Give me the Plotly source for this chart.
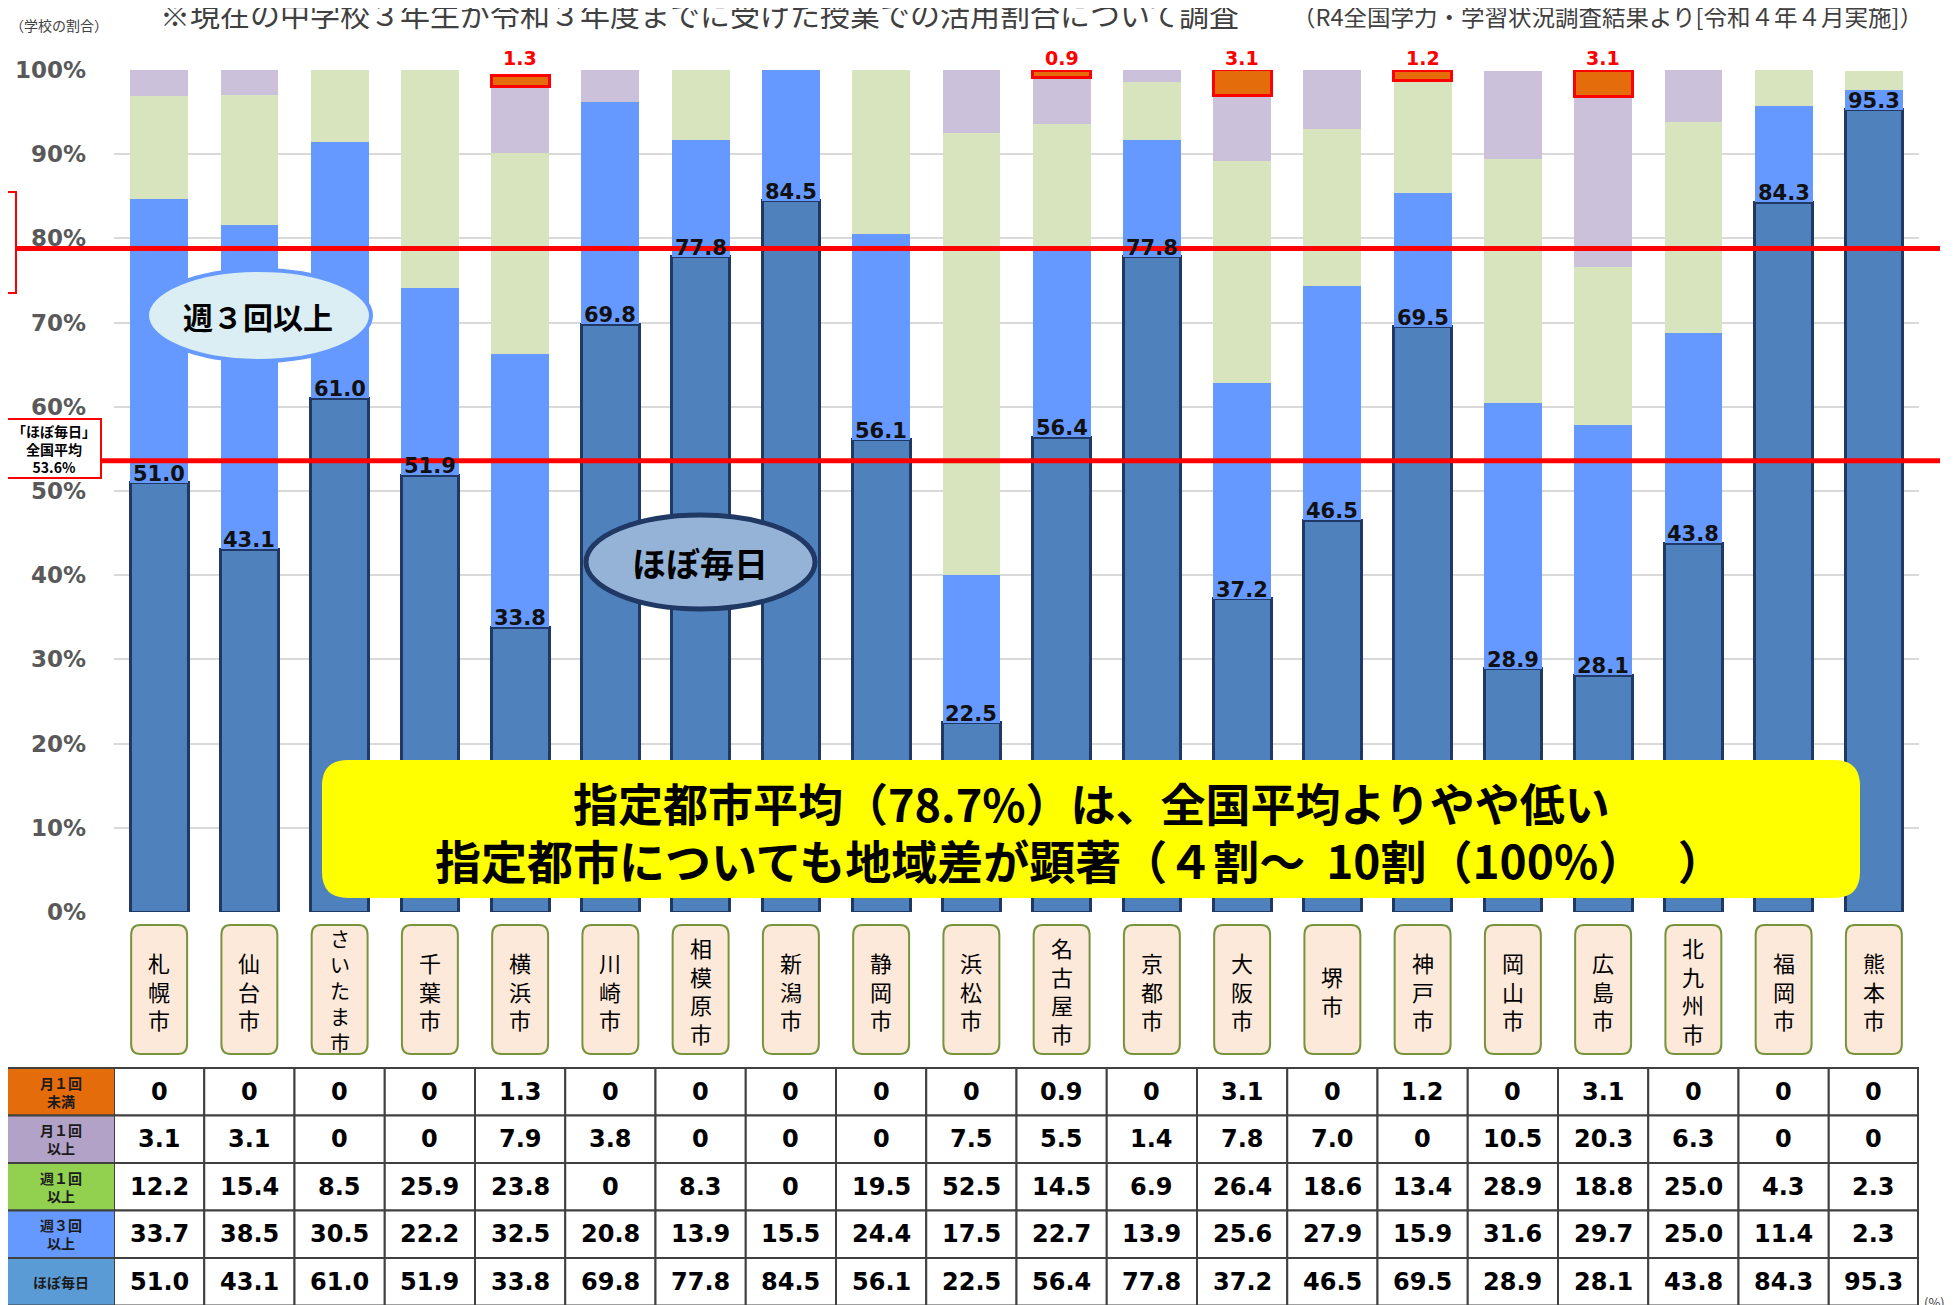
import plotly.graph_objects as go

W, H = 1955, 1305
OFF = 8  # the page body adds an 8px margin around the figure

# ---- data -------------------------------------------------------------
cities = ["札幌市", "仙台市", "さいたま市", "千葉市", "横浜市", "川崎市", "相模原市",
          "新潟市", "静岡市", "浜松市", "名古屋市", "京都市", "大阪市", "堺市",
          "神戸市", "岡山市", "広島市", "北九州市", "福岡市", "熊本市"]

# table values (%)
less_monthly = [0, 0, 0, 0, 1.3, 0, 0, 0, 0, 0, 0.9, 0, 3.1, 0, 1.2, 0, 3.1, 0, 0, 0]
monthly = [3.1, 3.1, 0, 0, 7.9, 3.8, 0, 0, 0, 7.5, 5.5, 1.4, 7.8, 7.0, 0, 10.5, 20.3, 6.3, 0, 0]
weekly1 = [12.2, 15.4, 8.5, 25.9, 23.8, 0, 8.3, 0, 19.5, 52.5, 14.5, 6.9, 26.4, 18.6, 13.4,
           28.9, 18.8, 25.0, 4.3, 2.3]
weekly3 = [33.7, 38.5, 30.5, 22.2, 32.5, 20.8, 13.9, 15.5, 24.4, 17.5, 22.7, 13.9, 25.6, 27.9,
           15.9, 31.6, 29.7, 25.0, 11.4, 2.3]
daily = [51.0, 43.1, 61.0, 51.9, 33.8, 69.8, 77.8, 84.5, 56.1, 22.5, 56.4, 77.8, 37.2, 46.5,
         69.5, 28.9, 28.1, 43.8, 84.3, 95.3]

# the chart's bar for 川崎市 differs from the table (blue runs up to ~96%)
weekly3_bar = [33.7, 38.5, 30.5, 22.2, 32.5, 26.4, 13.9, 15.5, 24.4, 17.5, 22.7, 13.9, 25.6, 27.9,
               15.9, 31.6, 29.7, 25.0, 11.4, 2.3]

national_daily_avg = 53.6
national_weekly3_avg = 78.8

row_names = ["月１回<br>未満", "月１回<br>以上", "週１回<br>以上", "週３回<br>以上", "ほぼ毎日"]
row_values = [less_monthly, monthly, weekly1, weekly3, daily]
row_colors = ["#E46C0A", "#B3A2C7", "#92D050", "#6699FF", "#5B9BD5"]

ytick_vals = [0, 10, 20, 30, 40, 50, 60, 70, 80, 90, 100]
ytick_text = [f"{v}%" for v in ytick_vals]

JP = "Noto Sans CJK JP"
NUM = "DejaVu Sans"


def fx(px):
    return (px - OFF) / W


def fy(py):
    return (H - (py - OFF)) / H


def rounded_path(x0, x1, y0, y1, rx, ry):
    return (f"M {x0 + rx},{y0} L {x1 - rx},{y0} Q {x1},{y0} {x1},{y0 + ry} "
            f"L {x1},{y1 - ry} Q {x1},{y1} {x1 - rx},{y1} L {x0 + rx},{y1} "
            f"Q {x0},{y1} {x0},{y1 - ry} L {x0},{y0 + ry} Q {x0},{y0} {x0 + rx},{y0} Z")


def note(**kw):
    d = dict(showarrow=False, xanchor="center", yanchor="middle")
    d.update(kw)
    return d


fig = go.Figure()
fig.add_bar(x=cities, y=daily, marker=dict(color="#4F81BD", line=dict(color="#1F3864", width=3)))
fig.add_bar(x=cities, y=weekly3_bar, marker=dict(color="#6699FF", line=dict(width=0)))
fig.add_bar(x=cities, y=weekly1, marker=dict(color="#D7E4BD", line=dict(width=0)))
fig.add_bar(x=cities, y=monthly, marker=dict(color="#CCC1DA", line=dict(width=0)))
fig.add_bar(x=cities, y=less_monthly,
            marker=dict(color="#E46C0A",
                        line=dict(color="#FF0000", width=[3 if v > 0 else 0 for v in less_monthly])))

shapes = []
ann = []

# value labels
for c, v in zip(cities, daily):
    ann.append(note(x=c, y=v, text=f"{v:.1f}", yanchor="bottom", yshift=-5,
                    font=dict(family=NUM, size=21, color="#111111", weight="bold")))
for c, v in zip(cities, less_monthly):
    if v > 0:
        ann.append(note(x=c, y=100, text=f"{v:.1f}", yanchor="bottom", yshift=-1,
                        font=dict(family=NUM, size=19, color="#FF0000", weight="bold")))

# reference lines
shapes.append(dict(type="line", xref="paper", yref="y", x0=fx(16), x1=fx(1940),
                   y0=national_weekly3_avg, y1=national_weekly3_avg,
                   line=dict(color="#FF0000", width=5)))
shapes.append(dict(type="line", xref="paper", yref="y", x0=fx(101), x1=fx(1940),
                   y0=national_daily_avg, y1=national_daily_avg,
                   line=dict(color="#FF0000", width=5)))

# left boxes
shapes.append(dict(type="rect", xref="paper", yref="paper", x0=fx(-10), x1=fx(16),
                   y0=fy(293), y1=fy(192), line=dict(color="#FF0000", width=2), fillcolor="white"))
ann.append(note(x=fx(7), y=fy(204), xref="paper", yref="paper", text="」",
                font=dict(family=JP, size=14, color="#000000", weight="bold")))
shapes.append(dict(type="rect", xref="paper", yref="paper", x0=fx(7), x1=fx(101),
                   y0=fy(478), y1=fy(419), line=dict(color="#FF0000", width=2), fillcolor="white"))
ann.append(note(x=fx(54), y=fy(449), xref="paper", yref="paper",
                text=f"「ほぼ毎日」<br>全国平均<br>{national_daily_avg}%",
                font=dict(family=JP, size=14, color="#000000", weight="bold")))

# ellipses
shapes.append(dict(type="circle", xref="paper", yref="paper", x0=fx(147), x1=fx(371),
                   y0=fy(361), y1=fy(270), fillcolor="#DAEEF3", line=dict(color="#6699FF", width=4)))
ann.append(note(x=fx(258), y=fy(316), xref="paper", yref="paper", text="週３回以上",
                font=dict(family=JP, size=30, color="#000000", weight="bold")))
shapes.append(dict(type="circle", xref="paper", yref="paper", x0=fx(586), x1=fx(815),
                   y0=fy(609), y1=fy(515), fillcolor="#95B3D7", line=dict(color="#1F3864", width=5)))
ann.append(note(x=fx(700), y=fy(562), xref="paper", yref="paper", text="ほぼ毎日",
                font=dict(family=JP, size=34, color="#000000", weight="bold")))

# yellow banner
shapes.append(dict(type="path", xref="paper", yref="paper",
                   path=rounded_path(fx(322), fx(1860), fy(898), fy(760), 26 / W, 26 / H),
                   fillcolor="#FFFF00", line=dict(width=0)))
ann.append(note(x=fx(1091), y=fy(802), xref="paper", yref="paper",
                text="指定都市平均（78.7%）は、全国平均よりやや低い",
                font=dict(family=JP, size=45, color="#000000", weight="bold")))
ann.append(note(x=fx(1079), y=fy(859), xref="paper", yref="paper",
                text="指定都市についても地域差が顕著（４割～\u00a0\u00a010割（100%）\u3000\u00a0）",
                font=dict(family=JP, size=46, color="#000000", weight="bold")))

# city label boxes
for i, c in enumerate(cities):
    shapes.append(dict(type="path", xref="x", yref="paper",
                       path=rounded_path(i - 0.31, i + 0.31, fy(1054), fy(925), 0.1, 10 / H),
                       fillcolor="#FDE9D9", line=dict(color="#77933C", width=2)))
    ann.append(note(x=c, y=fy(990), yref="paper", text="<br>".join(c),
                    font=dict(family=JP, size=22 if len(c) < 5 else 20, color="#000000")))

# table
top, row_h = 1068, 47.5
for r, (name, vals, col) in enumerate(zip(row_names, row_values, row_colors)):
    y_top = top + r * row_h
    y_bot = y_top + row_h
    shapes.append(dict(type="rect", xref="paper", yref="paper", x0=fx(7), x1=fx(115),
                       y0=fy(y_bot), y1=fy(y_top), fillcolor=col,
                       line=dict(color="#404040", width=2)))
    ann.append(note(x=fx(61), y=fy((y_top + y_bot) / 2), xref="paper", yref="paper", text=name,
                    font=dict(family=JP, size=14, color="#1A1A1A", weight="bold")))
    for i, (c, v) in enumerate(zip(cities, vals)):
        shapes.append(dict(type="rect", xref="x", yref="paper", x0=i - 0.5, x1=i + 0.5,
                           y0=fy(y_bot), y1=fy(y_top), fillcolor="white",
                           line=dict(color="#404040", width=2)))
        ann.append(note(x=c, y=fy((y_top + y_bot) / 2), yref="paper",
                        text="0" if v == 0 else f"{v:.1f}",
                        font=dict(family=NUM, size=24, color="#000000", weight="bold")))
shapes.append(dict(type="line", xref="paper", yref="paper", x0=fx(1918), x1=fx(1918),
                   y0=fy(top + 5 * row_h), y1=fy(top), line=dict(color="#404040", width=2)))

# header texts
ann.append(note(x=fx(8), y=fy(25), xref="paper", yref="paper", xanchor="left", text="（学校の割合）",
                font=dict(family=JP, size=14, color="#404040")))
ann.append(note(x=fx(158), y=fy(13), xref="paper", yref="paper", xanchor="left",
                text="※現在の中学校３年生が令和３年度までに受けた授業での活用割合について調査",
                font=dict(family=JP, size=30, color="#404040")))
ann.append(note(x=fx(1290), y=fy(16), xref="paper", yref="paper", xanchor="left",
                text="（R4全国学力・学習状況調査結果より[令和４年４月実施]）",
                font=dict(family=JP, size=23.5, color="#404040")))
ann.append(note(x=fx(1922), y=fy(1302), xref="paper", yref="paper", xanchor="left",
                text="(%)", font=dict(family=JP, size=13, color="#404040")))

fig.update_layout(
    width=W, height=H,
    margin=dict(l=0, r=0, t=0, b=0, autoexpand=False),
    paper_bgcolor="white", plot_bgcolor="white",
    barmode="stack", bargap=0.36, showlegend=False,
    xaxis=dict(domain=[fx(114), fx(1919)], range=[-0.5, 19.5], showticklabels=False,
               showgrid=False, zeroline=False, fixedrange=True, automargin=False),
    yaxis=dict(domain=[fy(912), fy(70)], range=[0, 100], tickmode="array",
               tickvals=ytick_vals, ticktext=ytick_text, automargin=False,
               gridcolor="#D9D9D9", gridwidth=2, zeroline=False, ticklabelstandoff=27,
               tickfont=dict(family=NUM, size=23, color="#595959", weight="bold"),
               fixedrange=True),
    shapes=shapes,
    annotations=ann,
)

fig.write_html("out.html")
